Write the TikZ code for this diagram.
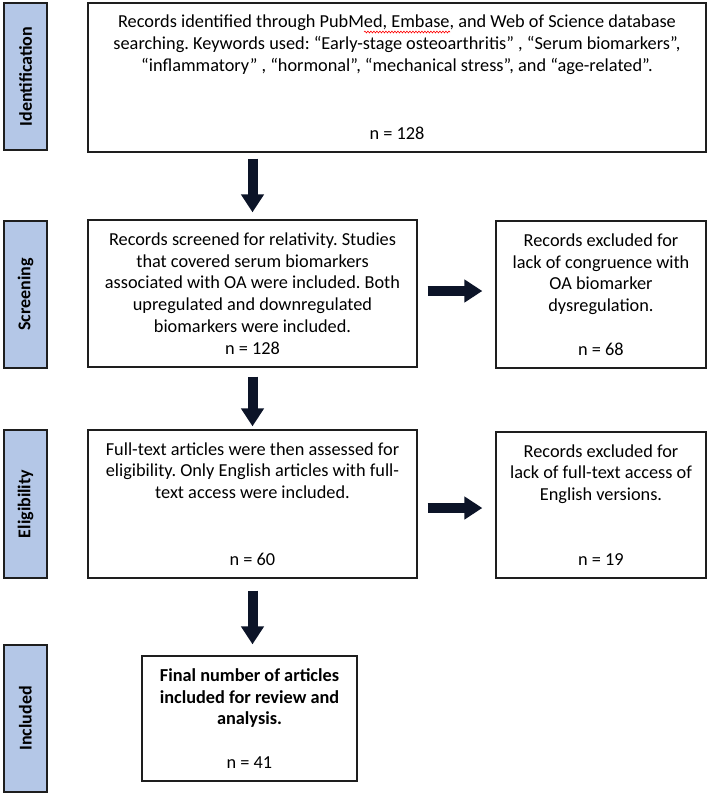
\documentclass[tikz,border=0pt]{standalone}
\usepackage{fontspec}
\setmainfont{Carlito}
\usetikzlibrary{arrows.meta,decorations.pathmorphing}
\definecolor{tabblue}{RGB}{180,199,231}
\definecolor{arrowcol}{RGB}{12,20,40}
\definecolor{edgecol}{RGB}{30,30,30}
\frenchspacing
\begin{document}
\begin{tikzpicture}[x=1pt,y=-1pt,
  every node/.style={font=\fontsize{18.3}{21.7}\selectfont},
  tabbox/.style={draw=edgecol, line width=1.4pt, fill=tabblue, rotate=90,
    inner sep=0pt, minimum height=43pt,
    font=\fontsize{18}{20}\selectfont\bfseries},
  flowbox/.style={draw=edgecol, line width=1.3pt, fill=white, inner sep=0pt, align=center},
  bigarrow/.style={draw=arrowcol, line width=10pt,
    -{Triangle[width=22pt,length=18pt]}},
]
\useasboundingbox[fill=white] (0,0) rectangle (709,796);

% side tabs
\node[tabbox, minimum width=147pt] (t1) at (25.5,76.5) {Identification};
\node[tabbox, minimum width=147pt] (t2) at (25.5,294.5) {Screening};
\node[tabbox, minimum width=148pt] (t3) at (25.5,504) {Eligibility};
\node[tabbox, minimum width=147pt] (t4) at (25.5,718.5) {Included};

% boxes
\node[flowbox, minimum width=618pt, minimum height=149pt] (b1) at (397,77.5)
  {Records identified through PubMed, Embase, and Web of Science database\\
   searching. Keywords used: “Early-stage osteoarthritis” , “Serum biomarkers”,\\
   “inflammatory” , “hormonal”, “mechanical stress”, and “age-related”.\\[47pt]
   n = 128};

\node[flowbox, minimum width=329pt, minimum height=147pt] (b2) at (252.5,293.5)
  {Records screened for relativity. Studies\\
   that covered serum biomarkers\\
   associated with OA were included. Both\\
   upregulated and downregulated\\
   biomarkers were included.\\
   n = 128};

\node[flowbox, minimum width=210pt, minimum height=147pt] (r2) at (601,294.5)
  {Records excluded for\\
   lack of congruence with\\
   OA biomarker\\
   dysregulation.\\[21.7pt]
   n = 68};

\node[flowbox, minimum width=329pt, minimum height=148pt] (b3) at (252.5,504)
  {Full-text articles were then assessed for\\
   eligibility. Only English articles with full-\\
   text access were included.\\[45pt]
   n = 60};

\node[flowbox, minimum width=210pt, minimum height=146pt] (r3) at (601,505)
  {Records excluded for\\
   lack of full-text access of\\
   English versions.\\[43.4pt]
   n = 19};

\node[flowbox, minimum width=215pt, minimum height=125pt, font=\fontsize{18.3}{21.7}\selectfont\bfseries] (b4) at (249.5,718.5)
  {Final number of articles\\
   included for review and\\
   analysis.\\[21.7pt]
   {\mdseries n = 41}};

% spell-check squiggle under "Embase"
\draw[red, line width=0.6pt, decorate, decoration={snake, amplitude=0.9pt, segment length=3pt}]
  (364,32) -- (450,32);

% arrows
\draw[bigarrow, shorten <=6pt, shorten >=7pt] (b1.south -| b2.north) -- (b2.north);
\draw[bigarrow, shorten <=9pt, shorten >=3pt] (b2.south) -- (b3.north);
\draw[bigarrow, shorten <=12pt, shorten >=11pt] (b3.south) -- (b3.south |- b4.north);
\draw[bigarrow, shorten <=10pt, shorten >=13pt] ([yshift=2.5pt]b2.east) -- ([yshift=2.5pt]b2.east -| r2.west);
\draw[bigarrow, shorten <=10pt, shorten >=13pt] ([yshift=-4pt]b3.east) -- ([yshift=-4pt]b3.east -| r3.west);
\end{tikzpicture}
\end{document}
